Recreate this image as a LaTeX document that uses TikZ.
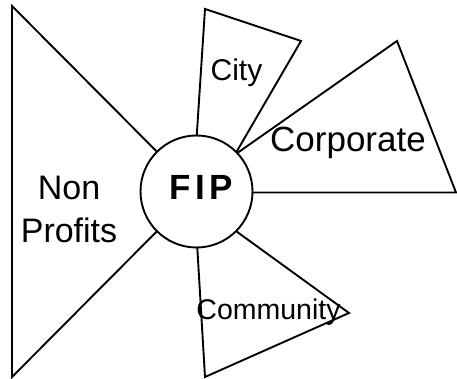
\documentclass[tikz,border=0pt]{standalone}
\usepackage{fontspec}
\setmainfont{Liberation Sans}
\newfontfamily\hubfont[LetterSpace=12]{Liberation Sans}
\tikzset{
    wedge/.style={draw=black, line width=1.9pt, line join=miter},
    hub/.style={circle, draw=black, line width=1.9pt, fill=white, minimum size=112pt, inner sep=0pt},
    biglabel/.style={font=\fontsize{34}{43}\selectfont, align=center},
    sidelabel/.style={anchor=base, inner sep=0pt}
}
\begin{document}
\begin{tikzpicture}[x=1pt, y=-1pt]
        \useasboundingbox (0,0) rectangle (457,379);

        % corner points of the wedges
        \coordinate (np1) at (12,6);
        \coordinate (np2) at (12,377);
        \coordinate (npT) at (196.5,191.5);
        \coordinate (ci1) at (205,9);
        \coordinate (ci2) at (301,41);
        \coordinate (ciT) at (190.5,231);
        \coordinate (co1) at (397,41);
        \coordinate (co2) at (456,192.5);
        \coordinate (coT) at (181,192.5);
        \coordinate (cm1) at (349,313);
        \coordinate (cm2) at (205,377);
        \coordinate (cmT) at (194.5,201);

        % Wedges
        \draw[wedge] (npT) -- (np1) -- (np2) -- cycle;
        \draw[wedge] (ciT) -- (ci1) -- (ci2) -- cycle;
        \draw[wedge] (coT) -- (co1) -- (co2) -- cycle;
        \draw[wedge] (cmT) -- (cm1) -- (cm2) -- cycle;

        % Hub
        \node[hub] (fip) at (196.5,191.5) {};
        \node[sidelabel, font=\hubfont\bfseries\fontsize{35}{40}\selectfont] (fiptext) at (201,200) {FIP};

        % Labels
        \node[biglabel] (nonprofits) at (69,209) {Non\\Profits};
        \node[sidelabel, font=\fontsize{30}{36}\selectfont] (city) at (236.5,81) {City};
        \node[sidelabel, font=\fontsize{35}{40}\selectfont] (corporate) at (348,152) {Corporate};
        \node[sidelabel, font=\fontsize{28.5}{34}\selectfont] (community) at (268.5,319) {Community};
\end{tikzpicture}
\end{document}
